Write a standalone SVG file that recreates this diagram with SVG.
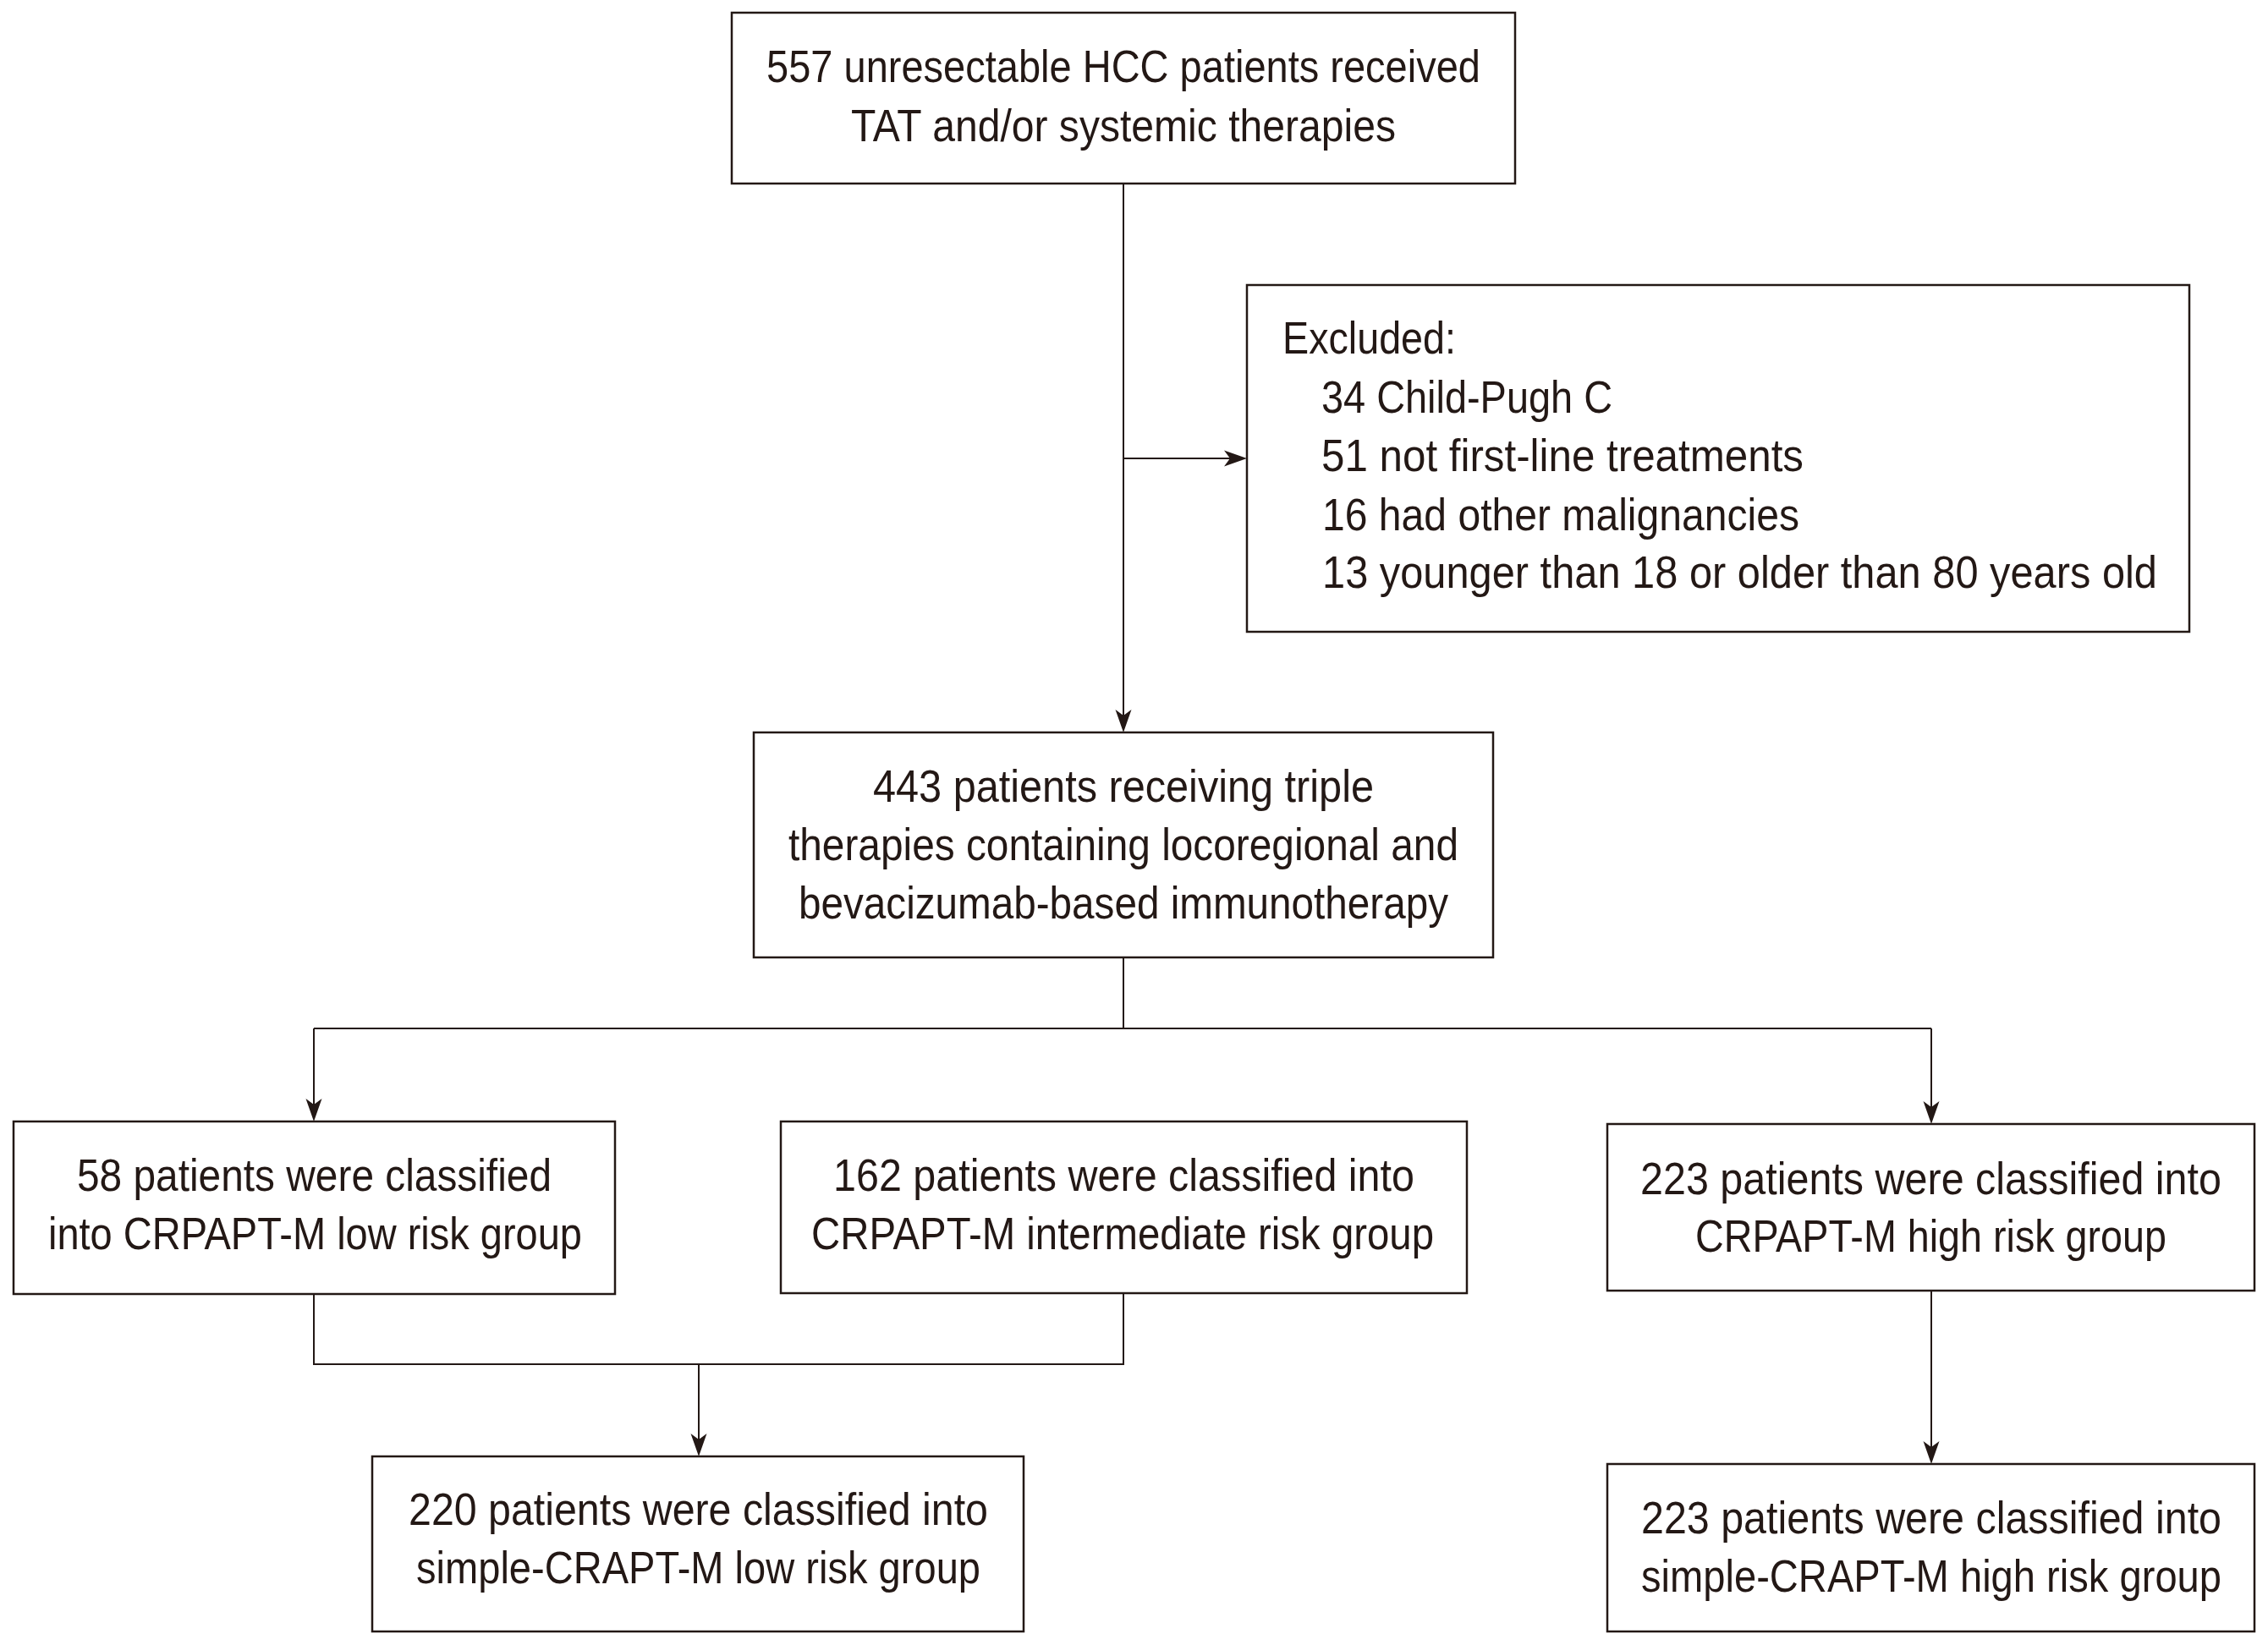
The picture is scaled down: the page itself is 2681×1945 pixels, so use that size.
<svg xmlns="http://www.w3.org/2000/svg" width="2681" height="1945" viewBox="0 0 2681 1945">
<style>
.box{fill:#ffffff;stroke:#231815;stroke-width:2.5}
.t{font-family:"Liberation Sans Narrow","Liberation Sans",Arial,sans-serif;font-size:53px;fill:#231815}
.m{text-anchor:middle}
.c{fill:none;stroke:#231815;stroke-width:2}
</style>
<defs>
<marker id="ah" markerUnits="userSpaceOnUse" viewBox="-18 -10 30 20" markerWidth="30" markerHeight="20" refX="0" refY="0" orient="auto">
<path d="M10,0 L-17,-9.5 L-10,0 L-17,9.5 Z" fill="#231815"/>
</marker>
</defs>
<rect width="2681" height="1945" fill="#ffffff"/>
<g id="connectors">
<path class="c" d="M1328,217 V856" marker-end="url(#ah)"/>
<path class="c" d="M1328,542 H1464" marker-end="url(#ah)"/>
<path class="c" d="M1328,1132 V1216"/>
<path class="c" d="M371,1216 H2283"/>
<path class="c" d="M371,1216 V1316" marker-end="url(#ah)"/>
<path class="c" d="M2283,1216 V1319" marker-end="url(#ah)"/>
<path class="c" d="M371,1530 V1613 H1328 V1529"/>
<path class="c" d="M826,1613 V1712" marker-end="url(#ah)"/>
<path class="c" d="M2283,1526 V1721" marker-end="url(#ah)"/>
</g>
<g id="n_start">
<rect class="box" x="865" y="15" width="926" height="202"/>
<text class="t m" x="1328" y="97" textLength="844" lengthAdjust="spacingAndGlyphs">557 unresectable HCC patients received</text>
<text class="t m" x="1328" y="167" textLength="644" lengthAdjust="spacingAndGlyphs">TAT and/or systemic therapies</text>
</g>
<g id="n_excluded">
<rect class="box" x="1474" y="337" width="1114" height="410"/>
<text class="t" x="1516" y="418" textLength="205" lengthAdjust="spacingAndGlyphs">Excluded:</text>
<text class="t" x="1562" y="488" textLength="344" lengthAdjust="spacingAndGlyphs">34 Child-Pugh C</text>
<text class="t" x="1562" y="557" textLength="570" lengthAdjust="spacingAndGlyphs">51 not first-line treatments</text>
<text class="t" x="1563" y="627" textLength="564" lengthAdjust="spacingAndGlyphs">16 had other malignancies</text>
<text class="t" x="1563" y="695" textLength="987" lengthAdjust="spacingAndGlyphs">13 younger than 18 or older than 80 years old</text>
</g>
<g id="n_triple">
<rect class="box" x="891" y="866" width="874" height="266"/>
<text class="t m" x="1328" y="948" textLength="592" lengthAdjust="spacingAndGlyphs">443 patients receiving triple</text>
<text class="t m" x="1328" y="1017" textLength="792" lengthAdjust="spacingAndGlyphs">therapies containing locoregional and</text>
<text class="t m" x="1328" y="1086" textLength="768" lengthAdjust="spacingAndGlyphs">bevacizumab-based immunotherapy</text>
</g>
<g id="n_low">
<rect class="box" x="16" y="1326" width="711" height="204"/>
<text class="t m" x="371.5" y="1408" textLength="561" lengthAdjust="spacingAndGlyphs">58 patients were classified</text>
<text class="t m" x="372.5" y="1477" textLength="631" lengthAdjust="spacingAndGlyphs">into CRPAPT-M low risk group</text>
</g>
<g id="n_intermediate">
<rect class="box" x="923" y="1326" width="811" height="203"/>
<text class="t m" x="1328.5" y="1408" textLength="687" lengthAdjust="spacingAndGlyphs">162 patients were classified into</text>
<text class="t m" x="1327" y="1477" textLength="736" lengthAdjust="spacingAndGlyphs">CRPAPT-M intermediate risk group</text>
</g>
<g id="n_high">
<rect class="box" x="1900" y="1329" width="765" height="197"/>
<text class="t m" x="2282.5" y="1412" textLength="687" lengthAdjust="spacingAndGlyphs">223 patients were classified into</text>
<text class="t m" x="2282.5" y="1480" textLength="557" lengthAdjust="spacingAndGlyphs">CRPAPT-M high risk group</text>
</g>
<g id="n_simple_low">
<rect class="box" x="440" y="1722" width="770" height="207"/>
<text class="t m" x="825.5" y="1803" textLength="685" lengthAdjust="spacingAndGlyphs">220 patients were classified into</text>
<text class="t m" x="825.5" y="1872" textLength="667" lengthAdjust="spacingAndGlyphs">simple-CRAPT-M low risk group</text>
</g>
<g id="n_simple_high">
<rect class="box" x="1900" y="1731" width="765" height="198"/>
<text class="t m" x="2283" y="1813" textLength="686" lengthAdjust="spacingAndGlyphs">223 patients were classified into</text>
<text class="t m" x="2283" y="1882" textLength="686" lengthAdjust="spacingAndGlyphs">simple-CRAPT-M high risk group</text>
</g>
</svg>
